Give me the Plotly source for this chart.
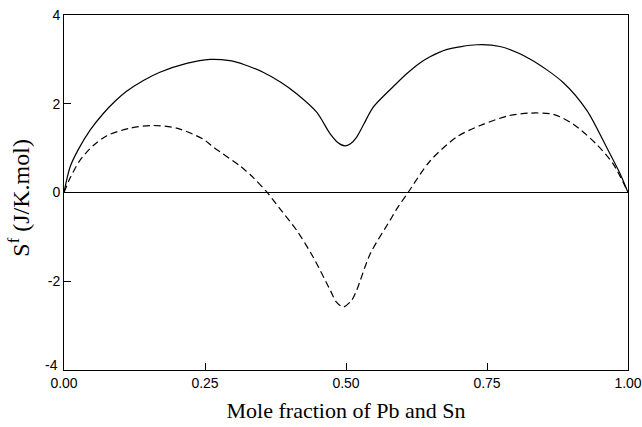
import plotly.graph_objects as go

solid_x = [0, 0.0106, 0.025, 0.046, 0.0697, 0.09, 0.111, 0.14, 0.170, 0.2175, 0.259, 0.294, 0.320, 0.353,
           0.385, 0.413, 0.448, 0.472, 0.486, 0.498, 0.508, 0.519, 0.532, 0.548, 0.589, 0.608, 0.631,
           0.649, 0.678, 0.732, 0.773, 0.826, 0.885, 0.927, 0.962, 0.985, 1.0]
solid_y = [0, 0.57, 0.96, 1.40, 1.78, 2.05, 2.28, 2.52, 2.71, 2.91, 3.0, 2.97, 2.88, 2.71,
           2.48, 2.22, 1.81, 1.32, 1.12, 1.05, 1.10, 1.25, 1.55, 1.92, 2.45, 2.68, 2.92,
           3.06, 3.22, 3.33, 3.29, 3.01, 2.48, 1.85, 1.02, 0.45, 0]

dash_x = [0, 0.011, 0.028, 0.052, 0.076, 0.117, 0.158, 0.2, 0.247, 0.265, 0.312, 0.336, 0.359,
          0.383, 0.413, 0.442, 0.472, 0.483, 0.495, 0.51, 0.519, 0.543, 0.578, 0.590,
          0.61, 0.649, 0.696, 0.738, 0.788, 0.826, 0.868, 0.903, 0.944, 0.974, 1.0]
dash_y = [0, 0.33, 0.72, 1.06, 1.28, 1.45, 1.51, 1.45, 1.20, 1.02, 0.60, 0.33, 0.02,
          -0.37, -0.86, -1.46, -2.2, -2.47, -2.58, -2.43, -2.2, -1.38, -0.63, -0.37,
          0.0, 0.71, 1.25, 1.51, 1.73, 1.79, 1.76, 1.54, 1.09, 0.64, 0]

x_ticks = [0, 0.25, 0.5, 0.75, 1.0]
x_tick_labels = ["0.00", "0.25", "0.50", "0.75", "1.00"]
y_ticks = [-2, 0, 2, 4]
y_tick_labels = ["-2", "0", "2", "4"]
y_bottom_label = "-4"
x_title = "Mole fraction of Pb and Sn"
y_title = "S<sup>f</sup> (J/K.mol)"

fig = go.Figure()
fig.add_trace(go.Scatter(x=solid_x, y=solid_y, mode="lines",
                         line=dict(color="black", width=1.2, shape="spline", smoothing=0.8),
                         showlegend=False, hoverinfo="skip"))
fig.add_trace(go.Scatter(x=dash_x, y=dash_y, mode="lines",
                         line=dict(color="black", width=1.2, dash="7px,4px", shape="spline", smoothing=0.8),
                         showlegend=False, hoverinfo="skip"))

# bottom y tick label sits a little higher in the reference
fig.add_annotation(x=0, y=-4, xref="x", yref="y", text=y_bottom_label, showarrow=False,
                   xanchor="right", yanchor="middle", xshift=-4, yshift=5,
                   font=dict(family="Liberation Sans, Arial, sans-serif", size=14, color="black"))

# y axis title placed as a rotated annotation so it can sit further left
fig.add_annotation(x=-0.08, y=0.485, xref="paper", yref="paper", text=y_title, showarrow=False,
                   textangle=-90, xanchor="center", yanchor="middle",
                   font=dict(family="Liberation Serif, Times New Roman, serif", size=24, color="black"))

fig.update_layout(
    width=642, height=427,
    margin=dict(l=64, r=14, t=15, b=57),
    paper_bgcolor="white", plot_bgcolor="white",
    font=dict(family="Liberation Sans, Arial, sans-serif", size=14, color="black"),
    xaxis=dict(range=[0, 1], tickvals=x_ticks, ticktext=x_tick_labels,
               ticks="inside", ticklen=7, tickcolor="black", tickwidth=1,
               showline=True, linecolor="black", linewidth=1, mirror=True,
               showgrid=False, zeroline=False, automargin=False,
               ticklabeloverflow="allow",
               title=dict(text=x_title,
                          font=dict(family="Liberation Serif, Times New Roman, serif", size=22, color="black"),
                          standoff=12)),
    yaxis=dict(range=[-4, 4], tickvals=y_ticks, ticktext=y_tick_labels,
               ticks="inside", ticklen=7, tickcolor="black", tickwidth=1,
               showline=True, linecolor="black", linewidth=1, mirror=True,
               showgrid=False, zeroline=True, zerolinecolor="black", zerolinewidth=1.2,
               automargin=False, ticklabeloverflow="allow"),
)

# remove the default page margin so the figure fills the window exactly
fig.write_html("out.html", config={"displayModeBar": False},
               post_script="document.body.style.margin='0';")
